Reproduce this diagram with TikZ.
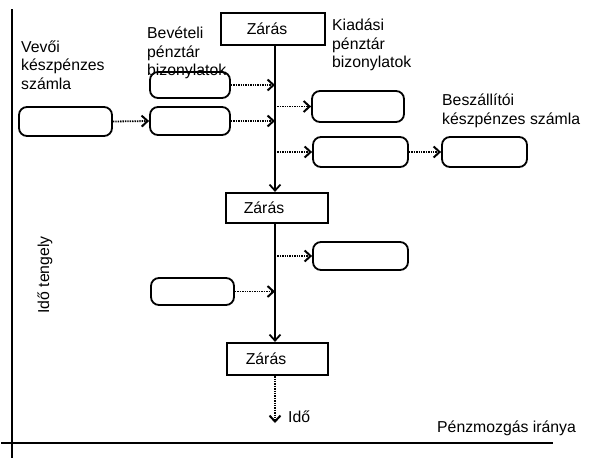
\documentclass[tikz,border=0pt]{standalone}
\usepackage{fontspec}
\setmainfont{Liberation Sans}
\usetikzlibrary{arrows.meta}
\begin{document}
\begin{tikzpicture}[x=1pt,y=-1pt,
  lbl/.style={inner sep=0pt,anchor=base west,font=\fontsize{15.8}{18.5}\selectfont},
  zbox/.style={draw,line width=2.2pt,inner sep=0pt,font=\fontsize{15.8}{18.5}\selectfont},
  rbox/.style={draw,line width=1.8pt,rounded corners=8pt,inner sep=0pt},
  flow/.style={line width=1.6pt,-{Straight Barb[length=6pt,width=11pt,line width=1.8pt]}},
  doc/.style={line width=1.8pt,dash pattern=on 1.4pt off 1pt,-{Straight Barb[length=6pt,width=11pt,line width=2pt,sep=0pt]}},
  axis/.style={line width=2pt}]
\useasboundingbox (0,0) rectangle (591,471);
% axes
\coordinate (ytop) at (12,9);
\coordinate (ybot) at (12,458);
\coordinate (xl) at (1,443);
\coordinate (xr) at (553,443);
\draw[axis] (ytop) -- (ybot);
\draw[axis] (xl) -- (xr);
% spine
\coordinate (spine) at (275,0);
% closing boxes
\node[zbox,minimum width=104pt,minimum height=32pt] (z1) at (273,29) {Zárás\hspace*{12pt}};
\node[zbox,minimum width=102pt,minimum height=30pt] (z2) at (277,208) {Zárás\hspace*{26pt}};
\node[zbox,minimum width=101pt,minimum height=32pt] (z3) at (277.5,359) {Zárás\hspace*{23pt}};
\draw[flow] (z1.south -| spine) -- (z2.north -| spine);
\draw[flow] (z2.south -| spine) -- (z3.north -| spine);
\coordinate (tend) at (275,423);
\draw[doc] (z3.south -| spine) -- (tend);
% rounded boxes
\node[rbox,minimum width=93pt,minimum height=29pt] (v) at (65.5,121.5) {};
\node[rbox,minimum width=80pt,minimum height=26pt] (b1) at (190,85) {};
\node[rbox,minimum width=80pt,minimum height=28pt] (b2) at (190,121) {};
\node[rbox,minimum width=92pt,minimum height=31pt] (k1) at (358,106.5) {};
\node[rbox,minimum width=95pt,minimum height=30pt] (k2) at (360.5,152) {};
\node[rbox,minimum width=85pt,minimum height=30pt] (s) at (484.5,152) {};
\node[rbox,minimum width=95pt,minimum height=28pt] (k3) at (360.5,256) {};
\node[rbox,minimum width=83pt,minimum height=27pt] (b3) at (192.5,291.5) {};
% document flows
\draw[doc] (v.east) -- (b2.west);
\draw[doc] (b1.east) -- (b1.east -| spine);
\draw[doc] (b2.east) -- (b2.east -| spine);
\draw[doc] (k1.west -| spine) -- (k1.west);
\draw[doc] (k2.west -| spine) -- (k2.west);
\draw[doc] (k2.east) -- (s.west);
\draw[doc] (k3.west -| spine) -- (k3.west);
\draw[doc] (b3.east) -- (b3.east -| spine);
% labels
\node[lbl] (tv1) at (21,52) {Vevői};
\node[lbl] (tv2) at (21,70.5) {készpénzes};
\node[lbl] (tv3) at (21,89) {számla};
\node[lbl] (tb1) at (147,38.5) {Bevételi};
\node[lbl] (tb2) at (147,57) {pénztár};
\node[lbl] (tb3) at (147,75.5) {bizonylatok};
\node[lbl] (tk1) at (332,30.5) {Kiadási};
\node[lbl] (tk2) at (332,49) {pénztár};
\node[lbl] (tk3) at (332,67.5) {bizonylatok};
\node[lbl] (ts1) at (442,105.5) {Beszállítói};
\node[lbl] (ts2) at (442,124.5) {készpénzes számla};
\node[lbl] (tido) at (288,422.5) {Idő};
\node[lbl] (tpm) at (437,432.5) {Pénzmozgás iránya};
\node[inner sep=0pt,rotate=90,font=\fontsize{15.8}{18.5}\selectfont] (tt) at (45,275) {Idő tengely};
\end{tikzpicture}
\end{document}
